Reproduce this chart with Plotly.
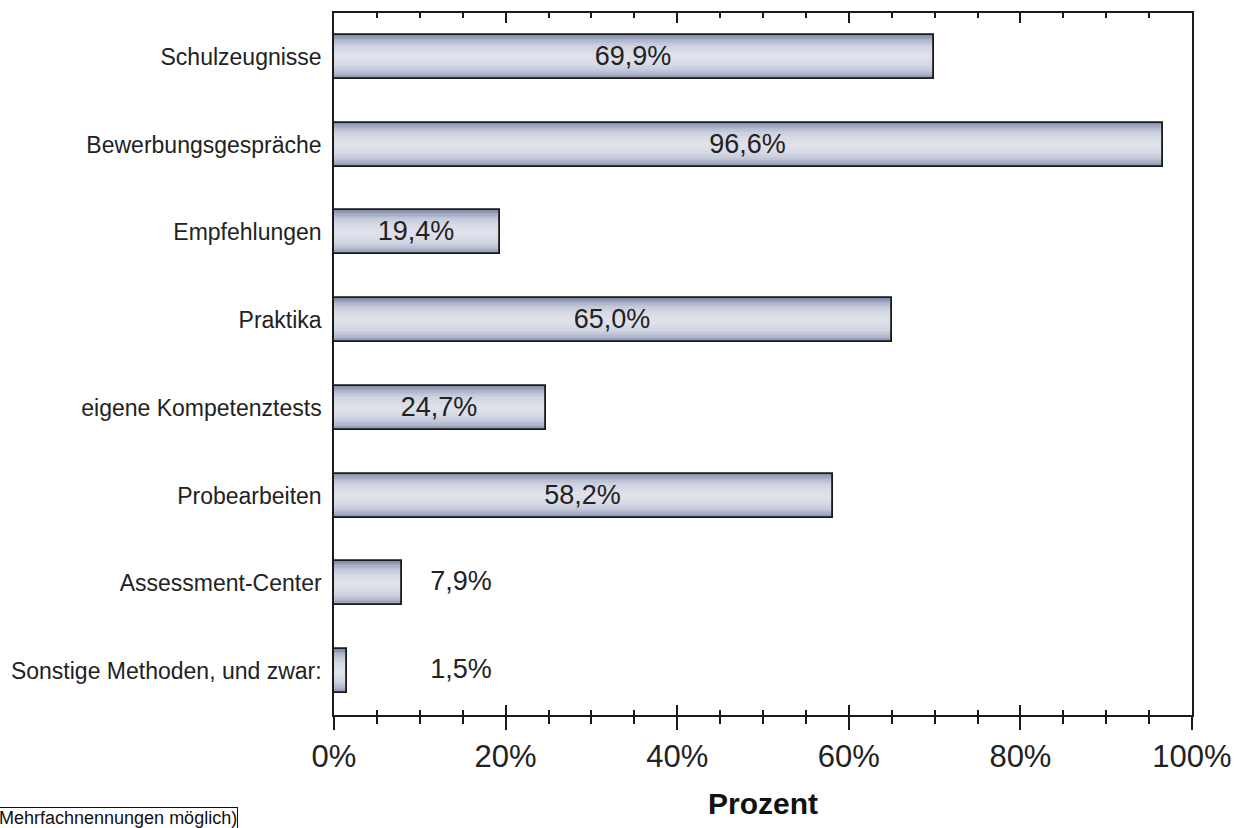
import plotly.graph_objects as go

categories = ["Schulzeugnisse", "Bewerbungsgespräche", "Empfehlungen", "Praktika",
              "eigene Kompetenztests", "Probearbeiten", "Assessment-Center",
              "Sonstige Methoden, und zwar:"]
values = [69.9, 96.6, 19.4, 65.0, 24.7, 58.2, 7.9, 1.5]
value_labels = ["69,9%", "96,6%", "19,4%", "65,0%", "24,7%", "58,2%", "7,9%", "1,5%"]
x_ticks = [0, 20, 40, 60, 80, 100]
x_tick_labels = ["0%", "20%", "40%", "60%", "80%", "100%"]

INSIDE_MIN = 15      # values below this get their label outside the bar
OUTSIDE_LABEL_X = 14.8  # x position (in %) of outside labels

FONT = "Liberation Sans, Arial, sans-serif"
TXT = "#222222"

fig = go.Figure()

# gradient layers (outer darker -> inner lighter)
grad = [(0.50, "#8790ad"), (0.47, "#939bb6"), (0.44, "#9ea6bf"), (0.41, "#a9b0c7"),
        (0.38, "#b3b9ce"), (0.35, "#bcc2d4"), (0.32, "#c4c9da"), (0.28, "#cbd0de"),
        (0.24, "#d1d5e2"), (0.19, "#d6dae5"), (0.14, "#dadde7"), (0.08, "#dee1ea")]
for w, c in grad:
    fig.add_trace(go.Bar(x=values, y=categories, orientation="h", width=w,
                         marker=dict(color=c, line=dict(width=0)),
                         hoverinfo="skip", showlegend=False))

inside_text = [t if v >= INSIDE_MIN else "" for v, t in zip(values, value_labels)]
fig.add_trace(go.Bar(x=values, y=categories, orientation="h", width=0.5,
                     marker=dict(color="rgba(0,0,0,0)", line=dict(color="#1a1a1a", width=1.8)),
                     text=inside_text, textposition="inside", insidetextanchor="middle",
                     textangle=0,
                     textfont=dict(family=FONT, size=27, color=TXT),
                     showlegend=False))

small_cats = [c for c, v in zip(categories, values) if v < INSIDE_MIN]
small_text = [t for t, v in zip(value_labels, values) if v < INSIDE_MIN]
fig.add_trace(go.Scatter(x=[OUTSIDE_LABEL_X] * len(small_cats), y=small_cats,
                         mode="text", text=small_text, xaxis="x2",
                         textfont=dict(family=FONT, size=27, color=TXT),
                         showlegend=False, hoverinfo="skip"))

fig.update_layout(
    width=1241, height=828,
    margin=dict(l=334, r=49, t=13, b=113, autoexpand=False),
    plot_bgcolor="white", paper_bgcolor="white",
    barmode="overlay", bargap=0,
    font=dict(family=FONT, color=TXT),
    xaxis=dict(range=[0, 100], tickvals=x_ticks, ticktext=x_tick_labels,
               ticks="outside", ticklen=13, tickwidth=1.5, tickcolor="#1a1a1a",
               minor=dict(dtick=5, tick0=0, ticks="outside", ticklen=7, tickwidth=1.5,
                          tickcolor="#1a1a1a", showgrid=False),
               showline=True, linecolor="#1a1a1a", linewidth=1.5, mirror=True,
               showgrid=False, zeroline=False, automargin=False,
               tickfont=dict(family=FONT, size=31, color=TXT),
               title=dict(text="<b>Prozent</b>", font=dict(family=FONT, size=30, color="#111111"),
                          standoff=20)),
    xaxis2=dict(range=[0, 100], overlaying="x", anchor="y", side="bottom",
                tickvals=x_ticks, showticklabels=False, automargin=False,
                ticks="inside", ticklen=10, tickwidth=1.5, tickcolor="#1a1a1a",
                minor=dict(dtick=5, tick0=0, ticks="inside", ticklen=5, tickwidth=1.5,
                           tickcolor="#1a1a1a", showgrid=False),
                mirror="ticks", showline=False, showgrid=False, zeroline=False),
    yaxis=dict(categoryorder="array", categoryarray=categories,
               range=[7.5, -0.5], showline=True, linecolor="#1a1a1a", linewidth=1.5,
               mirror=True, ticks="", showgrid=False, zeroline=False, automargin=False,
               ticklabelstandoff=6,
               tickfont=dict(family=FONT, size=23, color=TXT)),
)

fig.add_annotation(text="Mehrfachnennungen möglich)", xref="paper", yref="paper",
                   x=-336 / 858, y=(715 - 807) / 702, xanchor="left", yanchor="top", showarrow=False,
                   font=dict(family=FONT, size=18, color="#111111"),
                   bordercolor="#111111", borderwidth=1, borderpad=0)

fig.write_html("out.html", config={"displayModeBar": False},
               post_script="document.body.style.margin='0';document.body.style.overflow='hidden';")
